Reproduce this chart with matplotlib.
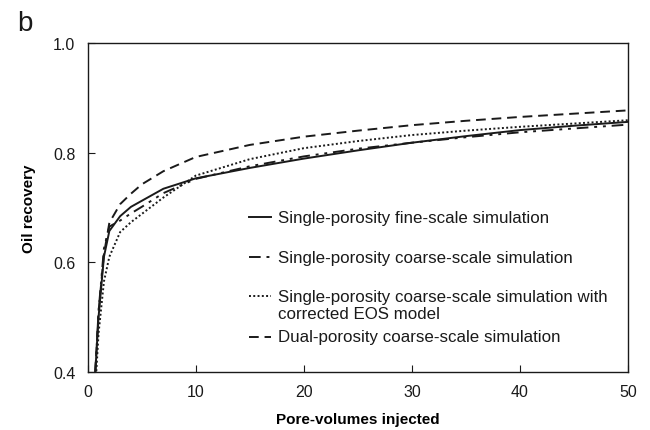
import numpy as np
import matplotlib
matplotlib.use('Agg')
import matplotlib.pyplot as plt

plt.rcParams['font.family'] = ['Liberation Sans', 'DejaVu Sans']

# Pore-volumes injected
pv = [0.7, 1.0, 1.5, 2, 3, 4, 5, 7, 10, 15, 20, 25, 30, 35, 40, 45, 50]

# Oil recovery for each simulation
fine_single = [0.40, 0.50, 0.610, 0.657, 0.684, 0.701, 0.712, 0.734, 0.753, 0.772,
               0.789, 0.804, 0.818, 0.830, 0.841, 0.849, 0.856]
coarse_single = [0.40, 0.51, 0.625, 0.665, 0.676, 0.689, 0.701, 0.726, 0.752, 0.775,
                 0.793, 0.807, 0.818, 0.828, 0.837, 0.844, 0.851]
coarse_eos = [0.37, 0.47, 0.565, 0.610, 0.655, 0.673, 0.688, 0.718, 0.758, 0.788,
              0.808, 0.821, 0.832, 0.840, 0.847, 0.853, 0.859]
coarse_dual = [0.40, 0.51, 0.615, 0.672, 0.706, 0.725, 0.742, 0.766, 0.792, 0.814,
               0.829, 0.840, 0.850, 0.858, 0.865, 0.871, 0.877]

labels = ['Single-porosity fine-scale simulation',
          'Single-porosity coarse-scale simulation',
          'Single-porosity coarse-scale simulation with\ncorrected EOS model',
          'Dual-porosity coarse-scale simulation']

styles = ['-', (0, (6, 3, 1.5, 3, 1.5, 3)), (0, (1, 1.2)), (0, (5, 3))]
series = [fine_single, coarse_single, coarse_eos, coarse_dual]

fig = plt.figure(figsize=(6.5, 4.31), dpi=100)
ax = fig.add_axes([0.135, 0.135, 0.831, 0.763])

for ys, ls in zip(series, styles):
    ax.plot(pv, ys, color='#1a1a1a', lw=1.4, linestyle=ls)

ax.set_xlim(0, 50)
ax.set_ylim(0.4, 1.0)
ax.set_xticks([0, 10, 20, 30, 40, 50])
ax.set_yticks([0.4, 0.6, 0.8, 1.0])
ax.yaxis.set_major_formatter(matplotlib.ticker.FormatStrFormatter('%.1f'))
ax.tick_params(direction='in', length=5, width=0.8, labelsize=11.5,
               colors='#1a1a1a')
ax.tick_params(axis='x', pad=9)
ax.tick_params(axis='y', pad=9)
for sp in ax.spines.values():
    sp.set_linewidth(1.0)
    sp.set_color('#1a1a1a')

ax.set_xlabel('Pore-volumes injected', fontsize=11, fontweight='bold', labelpad=9)
ax.set_ylabel('Oil recovery', fontsize=11, fontweight='bold', labelpad=12)

# hand-placed legend, the third entry wraps onto two lines
key_rows = [0.470, 0.349, 0.231, 0.107]
for lab, ls, yk in zip(labels, styles, key_rows):
    ax.plot([0.298, 0.340], [yk, yk], transform=ax.transAxes,
            color='#1a1a1a', lw=1.4, linestyle=ls)
    if '\n' in lab:
        ax.text(0.352, yk + 0.021, lab, transform=ax.transAxes, fontsize=12.2,
                va='top', color='#1a1a1a', linespacing=1.15)
    else:
        ax.text(0.352, yk, lab, transform=ax.transAxes, fontsize=12.2,
                va='center', color='#1a1a1a')

fig.text(0.026, 0.975, 'b', fontsize=20, va='top', color='#1a1a1a')

fig.savefig('out.png', dpi=100)
